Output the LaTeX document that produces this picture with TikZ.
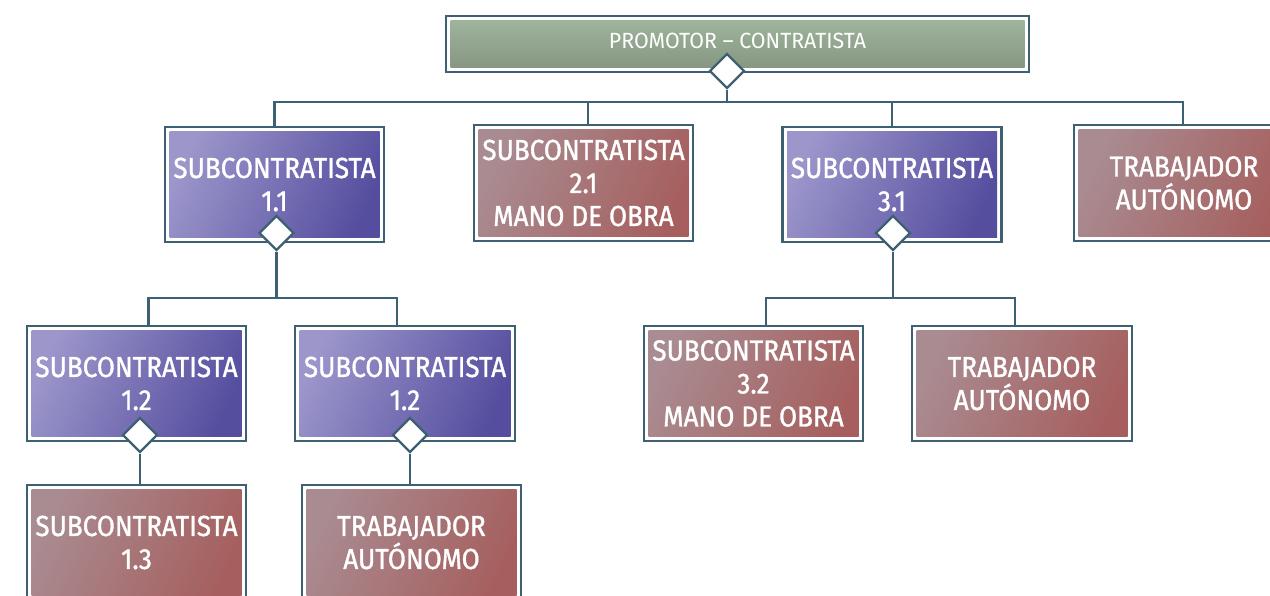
\documentclass[tikz,border=0pt]{standalone}
\usepackage{fontspec}
\setmainfont{Fira Sans}[FakeStretch=0.9, FakeBold=1.2]
\newfontfamily\topfont{Fira Sans}[FakeStretch=0.97]
\usetikzlibrary{shapes.geometric}
\definecolor{frame}{HTML}{3D6073}
\definecolor{plight}{HTML}{9C96CB}
\definecolor{pdark}{HTML}{554E9F}
\definecolor{rlight}{HTML}{A98C92}
\definecolor{rdark}{HTML}{A65F5E}
\definecolor{gtop}{HTML}{A0B79F}
\definecolor{gbot}{HTML}{85947E}
\tikzset{
  box/.style={draw=frame, line width=2.6pt, fill=white, inner sep=0pt,
    minimum width=219pt, minimum height=115pt, text=white, align=center,
    font=\fontsize{29}{33}\selectfont},
  purp/.style={box, path picture={\shade[top color=plight, bottom color=pdark, shading angle=65]
    ([shift={(4.5pt,4.5pt)}]path picture bounding box.south west) rectangle
    ([shift={(-4.5pt,-4.5pt)}]path picture bounding box.north east);}},
  redb/.style={box, path picture={\shade[top color=rlight, bottom color=rdark, shading angle=65]
    ([shift={(4.5pt,4.5pt)}]path picture bounding box.south west) rectangle
    ([shift={(-4.5pt,-4.5pt)}]path picture bounding box.north east);}},
  greenb/.style={box, font=\topfont\fontsize{22}{24}\selectfont,
    path picture={\shade[top color=gtop, bottom color=gbot]
    ([shift={(4.5pt,4.5pt)}]path picture bounding box.south west) rectangle
    ([shift={(-4.5pt,-4.5pt)}]path picture bounding box.north east);}},
  dia/.style={diamond, draw=frame, fill=white, line width=2.4pt,
    minimum width=35pt, minimum height=35pt, inner sep=0pt},
  conn/.style={draw=frame, line width=2.6pt}
}
\begin{document}
\begin{tikzpicture}[x=1pt, y=-1pt]
\useasboundingbox (0,0) rectangle (1270,595);
% boxes
\node[greenb, minimum width=583pt, minimum height=56pt] (top) at (737.5,44) {\raisebox{7pt}{PROMOTOR – CONTRATISTA}};
\node[purp] (s11) at (274.5,184.5) {SUBCONTRATISTA\\1.1};
\node[redb, minimum height=116pt] (s21) at (583.5,183) {SUBCONTRATISTA\\2.1\\MANO DE OBRA};
\node[purp] (s31) at (892,184.5) {SUBCONTRATISTA\\3.1};
\node[redb, minimum width=220pt, minimum height=116pt] (t1) at (1184,183) {TRABAJADOR\\AUTÓNOMO};
\node[purp] (s12a) at (136.5,383.5) {SUBCONTRATISTA\\1.2};
\node[purp, minimum width=220pt] (s12b) at (405,383.5) {SUBCONTRATISTA\\1.2};
\node[redb] (s32) at (753.5,383.5) {SUBCONTRATISTA\\3.2\\MANO DE OBRA};
\node[redb, minimum width=220pt] (t32) at (1022,383.5) {TRABAJADOR\\AUTÓNOMO};
\node[redb] (s13) at (136.5,542.5) {SUBCONTRATISTA\\1.3};
\node[redb] (t13) at (411.5,542.5) {TRABAJADOR\\AUTÓNOMO};
% diamonds
\node[dia] (d0) at (727,71) {};
\node[dia] (d11) at (276.5,233) {};
\node[dia] (d31) at (893,233) {};
\node[dia] (d12a) at (140,435) {};
\node[dia] (d12b) at (410,435) {};
% bus coordinates
\coordinate (bus0) at (727,102);
\coordinate (bus1) at (276.5,298);
\coordinate (bus3) at (893,298);
% connectors
\path[conn] (d0.south) -- (bus0);
\path[conn] (bus0) -| (s11.north);
\path[conn] (bus0) -| ([xshift=4.5pt]s21.north);
\path[conn] (bus0) -| (s31.north);
\path[conn] (bus0) -| ([xshift=-1pt]t1.north);
\path[conn] (d11.south) -- (bus1);
\path[conn] (bus1) -| ([xshift=12pt]s12a.north);
\path[conn] (bus1) -| ([xshift=-8pt]s12b.north);
\path[conn] (d31.south) -- (bus3);
\path[conn] (bus3) -| ([xshift=12.5pt]s32.north);
\path[conn] (bus3) -| ([xshift=-7pt]t32.north);
\path[conn] (d12a.south) -- (d12a.south |- s13.north);
\path[conn] (d12b.south) -- (d12b.south |- t13.north);
\end{tikzpicture}
\end{document}
